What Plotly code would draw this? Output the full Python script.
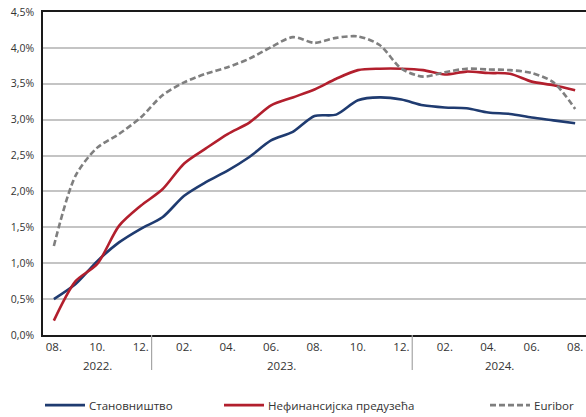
# Kamatne stope - Становништво, Нефинансијска предузећа, Euribor
import plotly.graph_objects as go

# Data (monthly, 08.2022 - 08.2024)
months = ["08.", "09.", "10.", "11.", "12.",
          "01.", "02.", "03.", "04.", "05.", "06.", "07.", "08.", "09.", "10.", "11.", "12.",
          "01.", "02.", "03.", "04.", "05.", "06.", "07.", "08."]
years = ["2022.", "2023.", "2024."]

stanovnistvo = [0.50, 0.71, 1.03, 1.29, 1.48,
                1.64, 1.94, 2.13, 2.29, 2.48, 2.71, 2.83, 3.05, 3.07, 3.27, 3.31, 3.28,
                3.20, 3.17, 3.16, 3.10, 3.08, 3.03, 2.99, 2.95]
preduzeca = [0.20, 0.75, 0.99, 1.52, 1.80,
             2.03, 2.39, 2.60, 2.80, 2.96, 3.20, 3.31, 3.42, 3.57, 3.69, 3.71, 3.71,
             3.69, 3.63, 3.67, 3.65, 3.64, 3.53, 3.48, 3.41]
euribor = [1.24, 2.22, 2.61, 2.80, 3.03,
           3.34, 3.52, 3.64, 3.73, 3.85, 4.01, 4.15, 4.07, 4.14, 4.16, 4.04, 3.71,
           3.60, 3.66, 3.71, 3.70, 3.69, 3.65, 3.52, 3.15]

y_ticks = [0, 0.5, 1.0, 1.5, 2.0, 2.5, 3.0, 3.5, 4.0, 4.5]
y_labels = ["0,0%", "0,5%", "1,0%", "1,5%", "2,0%", "2,5%", "3,0%", "3,5%", "4,0%", "4,5%"]

names = ["Становништво", "Нефинансијска предузећа", "Euribor"]
colors = ["#1f3b70", "#b21f2d", "#7f7f7f"]
dashes = ["solid", "solid", "6px,3px"]

x = list(range(len(months)))
font = "Open Sans"
text_color = "#333333"

fig = go.Figure()
for name, vals, col, dash in zip(names, [stanovnistvo, preduzeca, euribor], colors, dashes):
    fig.add_trace(go.Scatter(x=x, y=vals, name=name, mode="lines",
                             line=dict(color=col, width=2.6, dash=dash, shape="spline", smoothing=0.8),
                             showlegend=False))

# year separators below the axis
for sep in [4.5, 16.5]:
    fig.add_shape(type="line", xref="x", yref="paper", x0=sep, x1=sep, y0=0, y1=-0.108,
                  line=dict(color="#a6a6a6", width=1.2))

# year labels
for yr, pos in zip(years, [2, 10.5, 20.5]):
    fig.add_annotation(x=pos, y=-0.093, xref="x", yref="paper", text=yr, showarrow=False,
                       yanchor="middle",
                       font=dict(family=font, size=11.5, color=text_color))

# legend (drawn by hand to match spacing)
leg_x = [45, 224, 490]
for name, col, dash, lx in zip(names, colors, dashes, leg_x):
    fig.add_shape(type="line", xref="paper", yref="paper",
                  x0=(lx - 43) / 543, x1=(lx - 43 + 40) / 543, y0=-0.217, y1=-0.217,
                  line=dict(color=col, width=2.6, dash=dash))
    fig.add_annotation(x=(lx - 43 + 42) / 543, y=-0.217, xref="paper", yref="paper",
                       text=name, showarrow=False, xanchor="left", yanchor="middle",
                       font=dict(family=font, size=11.5, color=text_color))

fig.update_xaxes(range=[-0.5, 24.5], tickvals=x[::2], ticktext=months[::2], showgrid=False,
                 showline=True, linecolor="#1a1a1a", linewidth=1.5, mirror=True,
                 ticks="", zeroline=False,
                 tickfont=dict(family=font, size=11.5, color=text_color))
fig.update_yaxes(range=[0, 4.5], tickvals=y_ticks, ticktext=y_labels,
                 showgrid=True, gridcolor="#c4c4c4", gridwidth=1.5,
                 showline=True, linecolor="#1a1a1a", linewidth=1.5,
                 ticks="", zeroline=False, automargin=False, ticklabelstandoff=5,
                 tickfont=dict(family=font, size=10.5, color=text_color))
fig.update_layout(
    width=586, height=417,
    margin=dict(l=43, r=0, t=12, b=82),
    plot_bgcolor="white", paper_bgcolor="white",
    showlegend=False,
)

fig.write_html("out.html", config={"displayModeBar": False},
               post_script="document.body.style.margin='0';")
